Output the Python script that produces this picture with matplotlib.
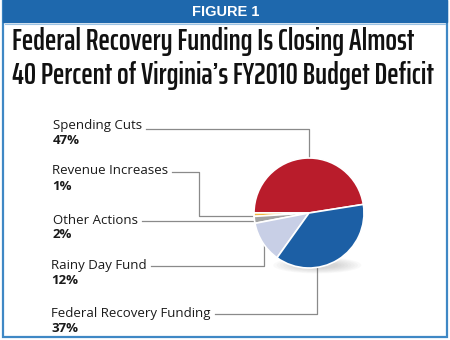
import numpy as np
import matplotlib.pyplot as plt
from matplotlib import font_manager
from matplotlib.patches import Rectangle, Ellipse

categories = ["Spending Cuts", "Revenue Increases", "Other Actions",
              "Rainy Day Fund", "Federal Recovery Funding"]
shares = [47, 1, 2, 12, 37]
pct_labels = ["47%", "1%", "2%", "12%", "37%"]
colors = ["#b91c2b", "#efb641", "#a3a3a3", "#c8cfe6", "#1c5fa5"]
title_lines = ["Federal Recovery Funding Is Closing Almost",
               "40 Percent of Virginia\u2019s FY2010 Budget Deficit"]

W, H = 450, 340
fig = plt.figure(figsize=(4.5, 3.4), dpi=100)

# pixel-coordinate layer for frame, title, labels and leader lines
ov = fig.add_axes([0, 0, 1, 1])
ov.set_xlim(0, W)
ov.set_ylim(H, 0)
ov.axis("off")
renderer = fig.canvas.get_renderer()

# frame + banner
ov.add_patch(Rectangle((3, 0), 444, 337, fill=False, edgecolor="#3f88c5", lw=1.6))
ov.add_patch(Rectangle((3, 0), 444, 22, color="#1e68ad"))
ov.plot([5, 445], [23.5, 23.5], color="#9cc3e4", lw=0.8)
ov.text(226, 12, "FIGURE 1", color="white", fontsize=10.5, fontweight="bold",
        ha="center", va="center", family=["Liberation Sans", "DejaVu Sans"])


def wnum(w):
    return font_manager.weight_dict.get(w, w) if isinstance(w, str) else w


# narrowest bold face on the system for the headline
fonts = font_manager.fontManager.ttflist
cands = {(f.name, f.stretch, wnum(f.weight)) for f in fonts
         if wnum(f.weight) >= 600 and
         ("Narrow" in f.name or "Condensed" in f.name
          or str(f.stretch) in ("condensed", "semi-condensed"))}
cands.add(("Liberation Sans", "normal", 700))
best, best_w = None, 1e9
for name, stretch, weight in cands:
    t = ov.text(0, 0, title_lines[0], fontsize=17, fontweight=weight,
                family=[name, "DejaVu Sans"], stretch=stretch)
    w = t.get_window_extent(renderer).width
    t.remove()
    if w < best_w:
        best, best_w = (name, stretch, weight), w

size = min(17 * 401 / best_w, 22)
for ty, line in zip([42, 75], title_lines):
    ov.text(12, ty, line, va="center", color="#111111", fontsize=size,
            fontweight=best[2], family=[best[0], "DejaVu Sans"], stretch=best[1])

# pie
cx, cy, r = 309, 213, 55
pad = 1.5
ax = fig.add_axes([(cx - r * pad) / W, (H - cy - r * pad) / H,
                   2 * r * pad / W, 2 * r * pad / H])

ax.pie(shares, colors=colors, startangle=9, counterclock=True,
       wedgeprops=dict(edgecolor="white", linewidth=1.2))

# soft shadow under the pie
for k in range(8):
    ax.add_patch(Ellipse((0.15, -0.95), 1.6 - k * 0.12, 0.3 - k * 0.025,
                         color="#555555", alpha=0.03, lw=0, zorder=0))

ax.set_xlim(-pad, pad)
ax.set_ylim(-pad, pad)
ax.set_aspect("equal")
ax.axis("off")


def edge_x(y):
    return cx - np.sqrt(r ** 2 - (y - cy) ** 2)


def edge_y(x):
    return cy + np.sqrt(r ** 2 - (x - cx) ** 2)


# leader paths after the label text
leaders = [
    [(309, 129), (309, cy - r)],
    [(199, 172), (199, 216), (edge_x(216), 216)],
    [(edge_x(221), 221)],
    [(264, 266), (264, edge_y(264))],
    [(317, 314), (317, edge_y(317))],
]
line_y = [129, 172, 221, 266, 314]
label_x = [53, 52, 53, 51, 51]
name_y = [126, 171, 220, 266, 314]

for name, pct, lx, ny, ly, path in zip(categories, pct_labels, label_x, name_y,
                                        line_y, leaders):
    t = ov.text(lx, ny, name, fontsize=9.5, color="#1a1a1a", va="center",
                family=["Open Sans", "DejaVu Sans"])
    ov.text(lx, ny + 15, pct, fontsize=9.5, fontweight="bold", color="#1a1a1a",
            va="center", family=["Open Sans", "DejaVu Sans"])
    x0 = t.get_window_extent(renderer).x1 + 4
    xs, ys = zip(*([(x0, ly)] + path))
    ov.plot(xs, ys, color="#8a8a8a", lw=0.9)

fig.savefig("out.png", dpi=100)
